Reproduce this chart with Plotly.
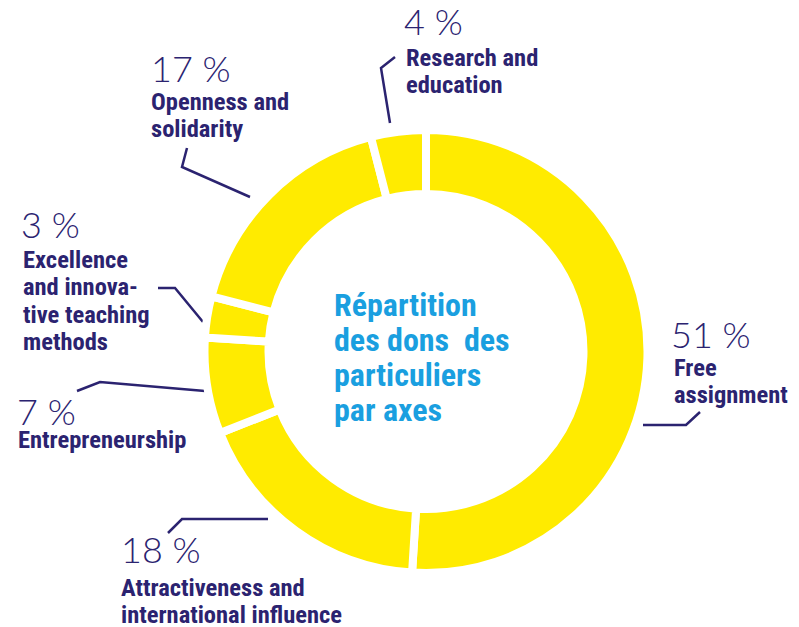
import plotly.graph_objects as go

# ---- data ----
categories = ["Free assignment", "Attractiveness and international influence",
              "Entrepreneurship", "Excellence and innovative teaching methods",
              "Openness and solidarity", "Research and education"]
values = [51, 18, 7, 3, 17, 4]
pct_labels = ["51 %", "18 %", "7 %", "3 %", "17 %", "4 %"]
name_labels = [["Free", "assignment"],
               ["Attractiveness and", "international influence"],
               ["Entrepreneurship"],
               ["Excellence", "and innova-", "tive teaching", "methods"],
               ["Openness and", "solidarity"],
               ["Research and", "education"]]
center_title = ["Répartition", "des dons  des", "particuliers", "par axes"]

# ---- styles / layout positions (page pixels) ----
PW, PH = 799, 627          # browser window
OFF = 8                    # default body margin of the html page
W, H = PW - OFF, PH - OFF  # figure size
YELLOW = "#FFEB00"
NAVY = "#2B2370"
BLUE = "#1A9FE0"
BOLD_FONT = ("Liberation Sans Narrow, Roboto Condensed, Noto Sans Condensed, "
             "DejaVu Sans Condensed, Arial Narrow, sans-serif")
THIN_FONT = "Lato, Noto Sans, sans-serif"

cx, cy, R = 426, 351.5, 221.5

pct_pos = [(672, 348), (122, 563), (18, 425), (22, 238), (152, 82), (405, 35)]
name_pos = [(673, 375), (120, 595), (17, 447), (22, 267), (150, 109), (405, 65)]
LINE_GAP = 27.5
leaders = [
    [(643, 425), (686, 425), (700, 412)],
    [(268, 519), (182, 519), (168, 533)],
    [(205, 391), (100, 382), (77, 391)],
    [(203, 322), (175, 288), (158, 288)],
    [(250, 197), (182, 167), (187, 148)],
    [(390, 123), (381, 68), (395, 57)],
]
title_pos = (333, 315)
TITLE_GAP = 35

fig = go.Figure()

fig.add_trace(go.Pie(
    labels=categories, values=values, sort=False, direction="clockwise",
    rotation=0, hole=0.711,
    marker=dict(colors=[YELLOW] * len(values), line=dict(color="white", width=8)),
    textinfo="none", hoverinfo="label+percent", showlegend=False,
    domain=dict(x=[(cx - OFF - R) / W, (cx - OFF + R) / W],
                y=[1 - (cy - OFF + R) / H, 1 - (cy - OFF - R) / H]),
))

for pts in leaders:
    fig.add_trace(go.Scatter(
        x=[p[0] for p in pts], y=[p[1] for p in pts], mode="lines",
        line=dict(color=NAVY, width=2.5), hoverinfo="skip", showlegend=False,
        xaxis="x", yaxis="y"))

PS = 36     # percent font size
LS = 24.5   # label font size
TS = 32     # title font size


def add_line(x, baseline, txt, size, family, color, weight):
    fig.add_annotation(x=x, y=baseline - 0.95 * size, text=txt, xref="x", yref="y",
                       xanchor="left", yanchor="top", align="left", showarrow=False,
                       font=dict(family=family, size=size, color=color, weight=weight),
                       borderpad=0)


for (px, py), txt in zip(pct_pos, pct_labels):
    fig.add_annotation(x=px - 2, y=py + 0.24 * PS, text=txt, xref="x", yref="y",
                       xanchor="left", yanchor="bottom", showarrow=False,
                       font=dict(family=THIN_FONT, size=PS, color=NAVY, weight=300),
                       borderpad=0)

for (nx, ny), lines in zip(name_pos, name_labels):
    for i, line in enumerate(lines):
        add_line(nx, ny + i * LINE_GAP, line, LS, BOLD_FONT, NAVY, "bold")

for i, line in enumerate(center_title):
    add_line(title_pos[0], title_pos[1] + i * TITLE_GAP, line, TS, BOLD_FONT, BLUE, "bold")

fig.update_layout(
    width=W, height=H, margin=dict(l=0, r=0, t=0, b=0),
    paper_bgcolor="white", plot_bgcolor="rgba(0,0,0,0)",
    xaxis=dict(range=[OFF, PW], visible=False, domain=[0, 1], fixedrange=True),
    yaxis=dict(range=[PH, OFF], visible=False, domain=[0, 1], fixedrange=True),
    showlegend=False,
)

fig.write_html("out.html")
